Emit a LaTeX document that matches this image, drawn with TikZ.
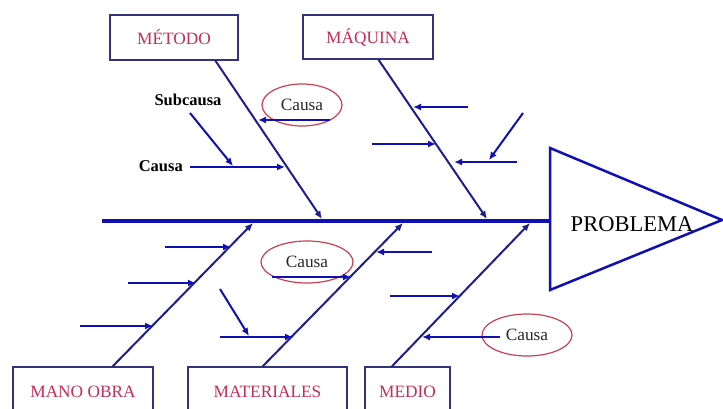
\documentclass[tikz,border=0pt]{standalone}
\usepackage{fontspec}
\setmainfont{Liberation Serif}
\usetikzlibrary{arrows.meta,shapes.geometric,calc}
\definecolor{spineblue}{RGB}{15,15,180}
\definecolor{bonenavy}{RGB}{30,30,140}
\definecolor{boxnavy}{RGB}{50,50,125}
\definecolor{catred}{RGB}{195,45,85}
\definecolor{ovalred}{RGB}{200,65,80}
\begin{document}
\begin{tikzpicture}[x=1pt,y=-1pt,
  tipped/.style={-{Latex[length=8pt,width=7pt]}},
  spine/.style={spineblue,line width=4pt},
  bone/.style={bonenavy,line width=2pt,tipped},
  twig/.style={spineblue,line width=2pt,tipped},
  catbox/.style={draw=boxnavy,line width=1.4pt,text=catred,inner sep=0pt,
    font=\fontsize{17.3}{17.3}\selectfont},
  oval/.style={ellipse,draw=ovalred,line width=1.2pt,inner sep=0pt,
    font=\fontsize{17.3}{17.3}\selectfont,text=black!85},
  note/.style={font=\bfseries\fontsize{16.5}{16.5}\selectfont,inner sep=0pt}]
\useasboundingbox (0,0) rectangle (723,409);
\clip (0,0) rectangle (723,409);

% head of the fish
\coordinate (tail) at (102,221);
\coordinate (headT) at (550,148);
\coordinate (headB) at (550,290);
\coordinate (headTip) at (722,220);
\coordinate (headL) at (550,221);
\draw[spineblue,line width=2.5pt,line join=miter] (headT) -- (headTip) -- (headB) -- cycle;
\node[font=\fontsize{22.5}{22.5}\selectfont] (prob) at (632,224) {PROBLEMA};
\draw[spine] (tail) -- (headL);

% category boxes
\node[catbox,minimum width=128pt,minimum height=45pt] (metodo) at (174,37.5) {MÉTODO};
\node[catbox,minimum width=130pt,minimum height=44pt] (maquina) at (368,37) {MÁQUINA};
\node[catbox,minimum width=140pt,minimum height=50pt] (mano) at (83,392) {MANO OBRA};
\node[catbox,minimum width=159pt,minimum height=50pt] (mat) at (267.5,392) {MATERIALES};
\node[catbox,minimum width=85pt,minimum height=50pt] (medio) at (407.5,392) {MEDIO};

% where the bones meet the spine
\coordinate (jMet) at (322,219);
\coordinate (jMaq) at (487,219);
\coordinate (jMan) at (253,223);
\coordinate (jMat) at (403,223);
\coordinate (jMed) at (530,223);

% main bones
\draw[bone] ($(metodo.south west)!0.82!(metodo.south east)$) -- (jMet);
\draw[bone] ($(maquina.south west)!0.58!(maquina.south east)$) -- (jMaq);
\draw[bone] ($(mano.north west)!0.71!(mano.north east)$) -- (jMan);
\draw[bone] ($(mat.north west)!0.47!(mat.north east)$) -- (jMat);
\draw[bone] ($(medio.north west)!0.32!(medio.north east)$) -- (jMed);

% Método causes
\node[oval,minimum width=80pt,minimum height=42pt] (ovA) at (302,105) {Causa};
\coordinate (a1s) at (330,120); \coordinate (a1e) at (258,120);
\draw[twig] (a1s) -- (a1e);
\node[note,anchor=east] (lblCausa) at (183,166) {Causa};
\node[note] (lblSub) at (188,100) {Subcausa};
\coordinate (a2s) at (190,167); \coordinate (a2e) at (285,167);
\draw[twig] (a2s) -- (a2e);
\coordinate (a3s) at (190,113); \coordinate (a3e) at (233,166);
\draw[twig] (a3s) -- (a3e);

% Máquina causes
\coordinate (b1s) at (468,107); \coordinate (b1e) at (413,107);
\coordinate (b2s) at (372,144); \coordinate (b2e) at (436,144);
\coordinate (b3s) at (517,162); \coordinate (b3e) at (454,162);
\coordinate (b4s) at (523,113); \coordinate (b4e) at (489,160);
\draw[twig] (b1s) -- (b1e);
\draw[twig] (b2s) -- (b2e);
\draw[twig] (b3s) -- (b3e);
\draw[twig] (b4s) -- (b4e);

% Mano de obra causes
\coordinate (c1s) at (165,247); \coordinate (c1e) at (231,247);
\coordinate (c2s) at (128,283); \coordinate (c2e) at (196,283);
\coordinate (c3s) at (80,326);  \coordinate (c3e) at (153,326);
\draw[twig] (c1s) -- (c1e);
\draw[twig] (c2s) -- (c2e);
\draw[twig] (c3s) -- (c3e);

% Materiales causes
\node[oval,minimum width=92pt,minimum height=42pt] (ovB) at (307,262) {Causa};
\coordinate (d1s) at (272,277); \coordinate (d1e) at (351,277);
\coordinate (d2s) at (432,252); \coordinate (d2e) at (376,252);
\coordinate (d3s) at (220,337); \coordinate (d3e) at (293,337);
\coordinate (d4s) at (220,289); \coordinate (d4e) at (249,336);
\draw[twig] (d1s) -- (d1e);
\draw[twig] (d2s) -- (d2e);
\draw[twig] (d3s) -- (d3e);
\draw[twig] (d4s) -- (d4e);

% Medio causes
\node[oval,minimum width=90pt,minimum height=42pt] (ovC) at (527,335) {Causa};
\coordinate (e1s) at (390,296); \coordinate (e1e) at (460,296);
\coordinate (e2s) at (500,337); \coordinate (e2e) at (422,337);
\draw[twig] (e1s) -- (e1e);
\draw[twig] (e2s) -- (e2e);
\end{tikzpicture}
\end{document}
